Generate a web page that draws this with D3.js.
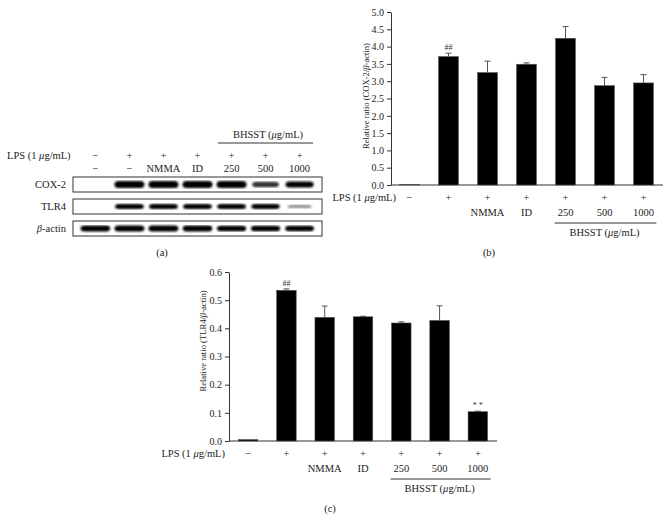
<!DOCTYPE html>
<meta charset="utf-8">
<style>
body { margin: 0; background: #fff; }
svg { font-family: "Liberation Serif", "Times New Roman", serif; }
.axis path, .axis line { stroke: #333; }
.axis text { font-size: 10px; fill: #222; font-family: "Liberation Serif", serif; }
.lbl { font-size: 10.5px; fill: #222; }
</style>
<svg width="669" height="523"></svg>
<script src="https://d3js.org/d3.v7.min.js"></script>
<script>
// groups
var lps = ["−", "+", "+", "+", "+", "+", "+"];
var treat = ["", "", "NMMA", "ID", "250", "500", "1000"];
var treatBlot = ["−", "−", "NMMA", "ID", "250", "500", "1000"];

// COX-2 / beta-actin
var coxMean = [0.02, 3.71, 3.25, 3.49, 4.24, 2.87, 2.95];
var coxErr  = [0.0, 0.10, 0.33, 0.04, 0.34, 0.24, 0.24];
var coxTicks = [0, 0.5, 1, 1.5, 2, 2.5, 3, 3.5, 4, 4.5, 5];

// TLR4 / beta-actin
var tlrMean = [0.005, 0.535, 0.439, 0.441, 0.419, 0.428, 0.104];
var tlrErr  = [0.0, 0.005, 0.040, 0.002, 0.004, 0.052, 0.002];
var tlrTicks = [0, 0.1, 0.2, 0.3, 0.4, 0.5, 0.6];

// blot band intensities (0..1) per lane
var bandCox = [0, 1, 1, 1, 1, 0.55, 0.75];
var bandTlr = [0, 0.85, 0.85, 0.85, 0.85, 0.8, 0.2];
var bandAct = [0.95, 1, 1, 0.95, 0.9, 0.9, 0.85];

var svg = d3.select("svg");

function lpsLabel(g, x, y, anchor) {
  var t = g.append("text").attr("class", "lbl").attr("x", x).attr("y", y)
      .attr("text-anchor", anchor);
  t.append("tspan").text("LPS (1 ");
  t.append("tspan").attr("font-style", "italic").text("μ");
  t.append("tspan").text("g/mL)");
}

function bhsstLabel(g, x, y) {
  var t = g.append("text").attr("class", "lbl").attr("x", x).attr("y", y)
      .attr("text-anchor", "middle");
  t.append("tspan").text("BHSST (");
  t.append("tspan").attr("font-style", "italic").text("μ");
  t.append("tspan").text("g/mL)");
}

// bar panel
function barPanel(opt) {
  var g = svg.append("g");
  var x = d3.scaleBand().domain(d3.range(7)).range(opt.xr)
      .paddingInner(0.49).paddingOuter(0.245);
  var y = d3.scaleLinear().domain([0, opt.max]).range(opt.yr);

  g.append("g").attr("class", "axis")
      .attr("transform", "translate(" + opt.ax + ",0)")
      .call(d3.axisLeft(y).tickValues(opt.ticks).tickFormat(d3.format(".1f"))
        .tickSize(4).tickSizeOuter(0));
  g.append("line").attr("x1", opt.ax).attr("x2", opt.xr[1])
      .attr("y1", y(0)).attr("y2", y(0)).attr("stroke", "#333");

  // error bars
  g.selectAll(".err").data(opt.mean).enter().append("g").each(function(d, i) {
    if (opt.err[i] <= 0) return;
    var cx = x(i) + x.bandwidth() / 2;
    var s = d3.select(this);
    s.append("line").attr("x1", cx).attr("x2", cx)
        .attr("y1", y(d)).attr("y2", y(d + opt.err[i])).attr("stroke", "#555").attr("stroke-width", 1);
    s.append("line").attr("x1", cx - 3).attr("x2", cx + 3)
        .attr("y1", y(d + opt.err[i])).attr("y2", y(d + opt.err[i])).attr("stroke", "#555").attr("stroke-width", 1);
  });

  g.selectAll(".bar").data(opt.mean).enter().append("rect")
      .attr("x", function(d, i) { return x(i); })
      .attr("width", x.bandwidth())
      .attr("y", function(d) { return y(d); })
      .attr("height", function(d) { return y(0) - y(d); })
      .attr("fill", "#000").attr("stroke", "#555").attr("stroke-width", 0.6);

  // significance marks
  opt.marks.forEach(function(m) {
    g.append("text").attr("x", x(m.i) + x.bandwidth() / 2)
        .attr("y", y(opt.mean[m.i] + opt.err[m.i]) - 3)
        .attr("text-anchor", "middle").attr("font-size", 8).attr("fill", "#333")
        .text(m.t);
  });

  // y title
  var t = g.append("text").attr("font-size", 8.6).attr("fill", "#222")
      .attr("text-anchor", "middle")
      .attr("transform", "translate(" + opt.tx + "," + opt.ty + ") rotate(-90)");
  t.append("tspan").text("Relative ratio (" + opt.name + "/");
  t.append("tspan").attr("font-style", "italic").text("β");
  t.append("tspan").text("-actin)");

  // x labels
  var b = opt.yr[0];
  lpsLabel(g, opt.lpsX, b + 16, "end");
  g.selectAll(".l1").data(lps).enter().append("text").attr("class", "lbl")
      .attr("x", function(d, i) { return x(i) + x.bandwidth() / 2; })
      .attr("y", b + 16).attr("text-anchor", "middle").text(function(d) { return d; });
  g.selectAll(".l2").data(treat).enter().append("text").attr("class", "lbl")
      .attr("x", function(d, i) { return x(i) + x.bandwidth() / 2; })
      .attr("y", b + 31).attr("text-anchor", "middle").text(function(d) { return d; });
  g.append("line").attr("x1", x(4) - 1).attr("x2", x(6) + x.bandwidth() + 3)
      .attr("y1", b + 38).attr("y2", b + 38).attr("stroke", "#333");
  bhsstLabel(g, (x(4) + x(6) + x.bandwidth()) / 2, b + 51);
  g.append("text").attr("class", "lbl").attr("text-anchor", "middle")
      .attr("x", opt.capX).attr("y", b + 71).text(opt.cap);
}

barPanel({ xr: [390, 663], yr: [185, 12], ax: 391, max: 5, ticks: coxTicks,
  mean: coxMean, err: coxErr, name: "COX-2", tx: 369, ty: 96, lpsX: 396,
  marks: [{ i: 1, t: "##" }], cap: "(b)", capX: 489 });

barPanel({ xr: [229, 497], yr: [441, 272], ax: 229, max: 0.6, ticks: tlrTicks,
  mean: tlrMean, err: tlrErr, name: "TLR4", tx: 206, ty: 341, lpsX: 225,
  marks: [{ i: 1, t: "##" }, { i: 6, t: "* *" }], cap: "(c)", capX: 330 });

// western blot panel (a)
var ga = svg.append("g");
var defs = svg.append("defs");
defs.append("filter").attr("id", "blur").append("feGaussianBlur").attr("stdDeviation", 0.9);

var lane = d3.scaleBand().domain(d3.range(7)).range([77, 318]).padding(0.08);
var lc = function(i) { return lane(i) + lane.bandwidth() / 2; };

bhsstLabel(ga, 268, 138);
ga.append("line").attr("x1", 218).attr("x2", 313).attr("y1", 143).attr("y2", 143).attr("stroke", "#333");
lpsLabel(ga, 7, 159, "start");
ga.selectAll(".h1").data(lps).enter().append("text").attr("class", "lbl")
    .attr("x", function(d, i) { return lc(i); }).attr("y", 159)
    .attr("text-anchor", "middle").text(function(d) { return d; });
ga.selectAll(".h2").data(treatBlot).enter().append("text").attr("class", "lbl")
    .attr("x", function(d, i) { return lc(i); }).attr("y", 172)
    .attr("text-anchor", "middle").text(function(d) { return d; });

var rows = [
  { name: "COX-2", y0: 177, band: bandCox, h: 7 },
  { name: "TLR4", y0: 199, band: bandTlr, h: 5.5 },
  { name: "-actin", y0: 221, band: bandAct, h: 6 }
];
rows.forEach(function(r) {
  ga.append("rect").attr("x", 73).attr("y", r.y0).attr("width", 249).attr("height", 15)
      .attr("fill", "#fff").attr("stroke", "#333").attr("stroke-width", 1);
  var t = ga.append("text").attr("class", "lbl").attr("x", 66).attr("y", r.y0 + 11)
      .attr("text-anchor", "end");
  if (r.name === "-actin") t.append("tspan").attr("font-style", "italic").text("β");
  t.append("tspan").text(r.name);
  ga.selectAll(null).data(r.band).enter().append("rect")
      .attr("x", function(d, i) { return lc(i) - 15 * (0.75 + 0.25 * d); })
      .attr("width", function(d) { return 30 * (0.75 + 0.25 * d); })
      .attr("y", function(d) { return r.y0 + 7.5 - r.h * (0.45 + 0.55 * d) / 2; })
      .attr("height", function(d) { return r.h * (0.45 + 0.55 * d); })
      .attr("rx", 4).attr("fill", "#000")
      .attr("opacity", function(d) { return d === 0 ? 0 : Math.min(1, 0.25 + d); })
      .attr("filter", "url(#blur)");
});
ga.append("text").attr("class", "lbl").attr("text-anchor", "middle")
    .attr("x", 162).attr("y", 256).text("(a)");
</script>
